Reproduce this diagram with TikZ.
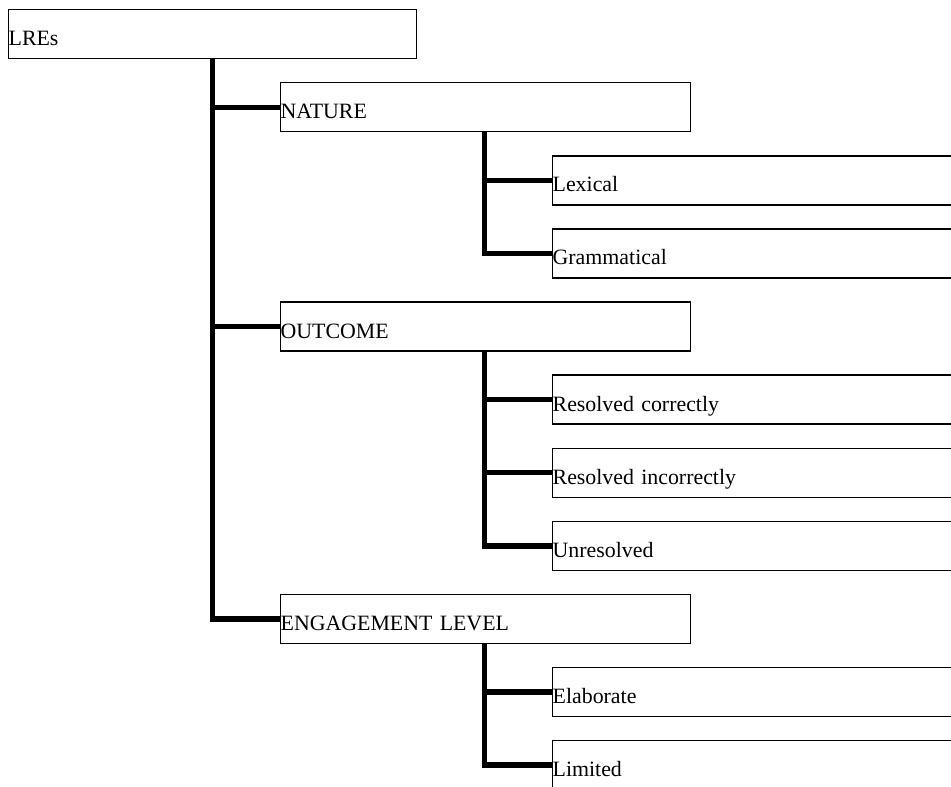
\documentclass[tikz,border=0pt]{standalone}
\usepackage{fontspec}
\setmainfont{Liberation Serif}
\begin{document}
\begin{tikzpicture}[x=0.75pt, y=-0.75pt,
  cat/.style={rectangle, draw, line width=1pt, anchor=north west, inner sep=0pt, text width=307.5pt, align=left, text height=27pt, text depth=9.75pt, font=\fontsize{16.4}{19}\selectfont},
  link/.style={line width=4pt, draw=black}
]
\clip (0,0) rectangle (951,787);
\node[cat, text width=306pt] (lres) at (8,9.0) {LREs};
\node[cat] (nature) at (280,82.1) {NATURE};
\node[cat] (lexical) at (552,155.2) {Lexical};
\node[cat] (grammatical) at (552,228.3) {Grammatical};
\node[cat] (outcome) at (280,301.4) {OUTCOME};
\node[cat] (rescorrect) at (552,374.5) {Resolved correctly};
\node[cat] (resincorrect) at (552,447.6) {Resolved incorrectly};
\node[cat] (unresolved) at (552,520.7) {Unresolved};
\node[cat] (engagement) at (280,593.8) {ENGAGEMENT LEVEL};
\node[cat] (elaborate) at (552,666.9) {Elaborate};
\node[cat] (limited) at (552,740.0) {Limited};
\draw[link] ([xshift=153.5pt]lres.south west) |- (nature.west);
\draw[link] ([xshift=153.5pt]lres.south west) |- (outcome.west);
\draw[link] ([xshift=153.5pt]lres.south west) |- (engagement.west);
\draw[link] ([xshift=153.5pt]nature.south west) |- (lexical.west);
\draw[link] ([xshift=153.5pt]nature.south west) |- (grammatical.west);
\draw[link] ([xshift=153.5pt]outcome.south west) |- (rescorrect.west);
\draw[link] ([xshift=153.5pt]outcome.south west) |- (resincorrect.west);
\draw[link] ([xshift=153.5pt]outcome.south west) |- (unresolved.west);
\draw[link] ([xshift=153.5pt]engagement.south west) |- (elaborate.west);
\draw[link] ([xshift=153.5pt]engagement.south west) |- (limited.west);
\end{tikzpicture}
\end{document}
